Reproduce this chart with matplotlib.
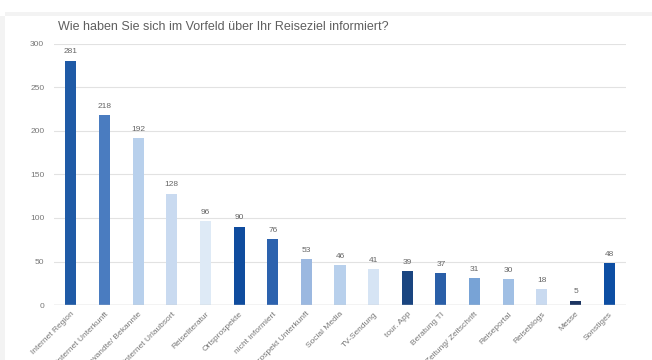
import matplotlib.pyplot as plt
from matplotlib.patches import Rectangle

plt.rcParams['font.family'] = ['Liberation Sans', 'DejaVu Sans']

categories = ['Internet Region', 'Internet Unterkunft', 'Verwandte/ Bekannte',
              'Internet Urlaubsort', 'Reiseliteratur', 'Ortsprospekte',
              'nicht informiert', 'Prospekt Unterkunft', 'Social Media',
              'TV-Sendung', 'tour. App', 'Beratung TI', 'Zeitung/ Zeitschrift',
              'Reiseportal', 'Reiseblogs', 'Messe', 'Sonstiges']
values = [281, 218, 192, 128, 96, 90, 76, 53, 46, 41, 39, 37, 31, 30, 18, 5, 48]
colors = ['#1f5aa6', '#4a7cc0', '#b8d0ec', '#c9daf0', '#deeaf6', '#0f4c9e',
          '#2c62ae', '#9bb8e0', '#b8d0ec', '#d6e4f4', '#1a4580', '#2a5fa8',
          '#78a3d6', '#a0bfe4', '#c9daf0', '#1c3562', '#0d4ea3']
title = 'Wie haben Sie sich im Vorfeld über Ihr Reiseziel informiert?'

fig = plt.figure(figsize=(6.52, 3.6), dpi=100)
fig.patch.set_facecolor('white')

# card shadow edges
fig.patches.append(Rectangle((0, 0), 5 / 652, 1 - 16 / 360, transform=fig.transFigure,
                             facecolor='#f3f3f3', edgecolor='none', zorder=0))
fig.patches.append(Rectangle((5 / 652, 1 - 16 / 360), 1, 4 / 360, transform=fig.transFigure,
                             facecolor='#f3f3f3', edgecolor='none', zorder=0))

ax = fig.add_axes([54 / 652, 55 / 360, 572 / 652, 261 / 360])
x = range(len(values))
ax.bar(x, values, width=0.33, color=colors, zorder=3)
for i, v in enumerate(values):
    ax.text(i, v + 6, str(v), ha='center', va='bottom', fontsize=6, color='#666666')

ax.set_xlim(-0.5, len(values) - 0.5)
ax.set_ylim(0, 300)
ax.set_yticks(range(0, 301, 50))
ax.grid(axis='y', color='#e2e2e2', linewidth=0.8, zorder=0)
ax.axhline(0, color='#cccccc', linewidth=1, zorder=4)
for s in ax.spines.values():
    s.set_visible(False)
ax.tick_params(axis='both', length=0, labelsize=6, labelcolor='#777777')
ax.tick_params(axis='y', pad=7)
ax.set_xticks(list(x))
ax.set_xticklabels(categories, rotation=45, ha='right', rotation_mode='anchor')
ax.tick_params(axis='x', pad=4)

fig.text(58 / 652, 1 - 27 / 360, title, fontsize=9, color='#5f5f5f', va='center')

fig.savefig('out.png', dpi=100)
